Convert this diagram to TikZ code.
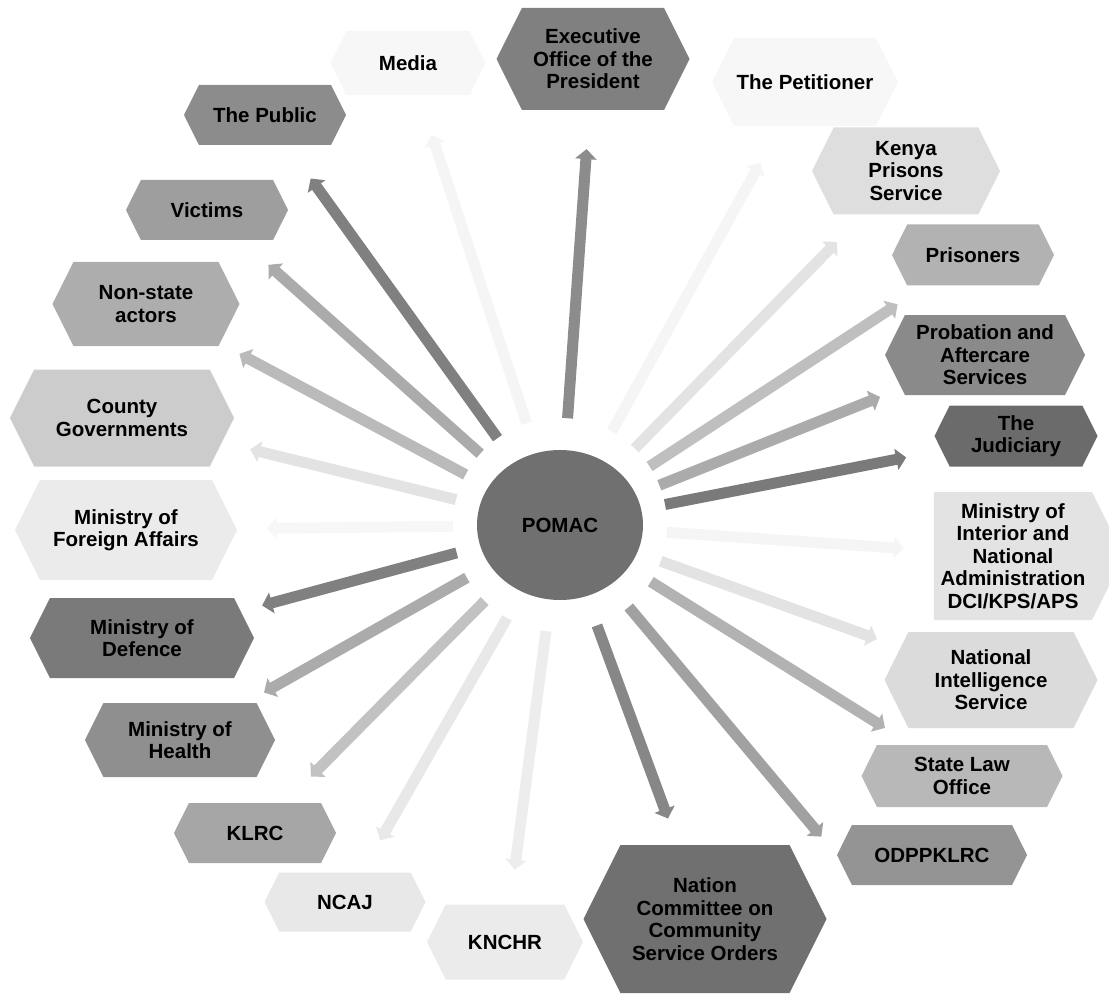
\documentclass[tikz,border=0pt]{standalone}
\usepackage{fontspec}
\setmainfont{Liberation Sans}
\usetikzlibrary{shapes.symbols,shapes.geometric,arrows.meta}

\begin{document}
\begin{tikzpicture}[x=1pt, y=-1pt,
  hexbox/.style={shape=signal, signal to=east and west, signal pointer angle=127,
    inner sep=1pt, align=center, font=\fontsize{20.5}{22.5}\selectfont\bfseries},
  spoke/.style={line width=11pt, -{Triangle[width=21pt,length=10pt]}, shorten <=107pt}]

  \useasboundingbox (0,0) rectangle (1109,995);

  % centre
  \node[ellipse, fill=black!56, minimum width=166pt, minimum height=150pt, inner sep=0pt,
    font=\fontsize{20.5}{22.5}\selectfont\bfseries] (pomac) at (560,525) {POMAC};

  % top
  \node[hexbox, fill=black!3, minimum width=155pt, minimum height=64pt] (media) at (408,63) {Media};
  \node[hexbox, fill=black!50, minimum width=193pt, minimum height=102pt] (exec) at (593,59) {Executive\\Office of the\\President};
  \node[hexbox, fill=black!3, minimum width=186pt, minimum height=88pt] (petitioner) at (805,82) {The Petitioner};

  % left side
  \node[hexbox, fill=black!45, minimum width=162pt, minimum height=60pt] (public) at (265,115) {The Public};
  \node[hexbox, fill=black!38, minimum width=162pt, minimum height=60pt] (victims) at (207,210) {Victims};
  \node[hexbox, fill=black!32, minimum width=187pt, minimum height=84pt] (nonstate) at (146,304) {Non-state\\actors};
  \node[hexbox, fill=black!20, minimum width=224pt, minimum height=97pt] (county) at (122,418) {County\\Governments};
  \node[hexbox, fill=black!8, minimum width=222pt, minimum height=100pt] (foreign) at (126,530) {Ministry of\\Foreign Affairs};
  \node[hexbox, fill=black!52, minimum width=224pt, minimum height=80pt] (defence) at (142,638) {Ministry of\\Defence};
  \node[hexbox, fill=black!44, minimum width=190pt, minimum height=74pt] (health) at (180,740) {Ministry of\\Health};
  \node[hexbox, fill=black!35, minimum width=162pt, minimum height=60pt] (klrc) at (255,833) {KLRC};

  % bottom
  \node[hexbox, fill=black!9, minimum width=161pt, minimum height=59pt] (ncaj) at (345,902) {NCAJ};
  \node[hexbox, fill=black!8, minimum width=156pt, minimum height=75pt] (knchr) at (505,942) {KNCHR};
  \node[hexbox, fill=black!56, minimum width=243pt, minimum height=148pt] (ncso) at (705,919) {Nation\\Committee on\\Community\\Service Orders};

  % right side
  \node[hexbox, fill=black!42, minimum width=190pt, minimum height=60pt] (odpp) at (932,855) {ODPPKLRC};
  \node[hexbox, fill=black!28, minimum width=201pt, minimum height=62pt] (slo) at (962,776) {State Law\\Office};
  \node[hexbox, fill=black!14, minimum width=213pt, minimum height=96pt] (nis) at (991,680) {National\\Intelligence\\Service};
  \node[hexbox, signal to=east, fill=black!11, minimum width=190pt, minimum height=128pt] (interior) at (1013,556) {Ministry of\\Interior and\\National\\Administration\\DCI/KPS/APS};
  \node[hexbox, fill=black!58, minimum width=163pt, minimum height=61pt] (judiciary) at (1016,436) {The\\Judiciary};
  \node[hexbox, fill=black!46, minimum width=200pt, minimum height=80pt] (probation) at (985,355) {Probation and\\Aftercare\\Services};
  \node[hexbox, fill=black!30, minimum width=162pt, minimum height=61pt] (prisoners) at (973,255) {Prisoners};
  \node[hexbox, fill=black!13, minimum width=188pt, minimum height=87pt] (kps) at (906,171) {Kenya\\Prisons\\Service};

  % spokes
  \draw[spoke, black!4, shorten >=42pt] (pomac.center) -- (media);
  \draw[spoke, black!45, shorten >=39pt] (pomac.center) -- (exec);
  \draw[spoke, black!4, shorten >=42pt] (pomac.center) -- (petitioner);
  \draw[spoke, black!50, shorten >=41pt] (pomac.center) -- (public);
  \draw[spoke, black!33, shorten >=37pt] (pomac.center) -- (victims);
  \draw[spoke, black!27, shorten >=22pt] (pomac.center) -- (nonstate);
  \draw[spoke, black!11, shorten >=29pt] (pomac.center) -- (county);
  \draw[spoke, black!3, shorten >=30pt] (pomac.center) -- (foreign);
  \draw[spoke, black!50, shorten >=22pt] (pomac.center) -- (defence);
  \draw[spoke, black!33, shorten >=21pt] (pomac.center) -- (health);
  \draw[spoke, black!24, shorten >=37pt] (pomac.center) -- (klrc);
  \draw[spoke, black!9, shorten >=37pt] (pomac.center) -- (ncaj);
  \draw[spoke, black!7, shorten >=35pt] (pomac.center) -- (knchr);
  \draw[spoke, black!47, shorten >=28pt] (pomac.center) -- (ncso);
  \draw[spoke, black!37, shorten >=24pt] (pomac.center) -- (odpp.west);
  \draw[spoke, black!30, shorten >=32pt] (pomac.center) -- (slo);
  \draw[spoke, black!11, shorten >=25pt] (pomac.center) -- (nis);
  \draw[spoke, black!4, shorten >=30pt] (pomac.center) -- (interior);
  \draw[spoke, black!52, shorten >=36pt] (pomac.center) -- (judiciary);
  \draw[spoke, black!33, shorten >=23pt] (pomac.center) -- (probation);
  \draw[spoke, black!25, shorten >=34pt] (pomac.center) -- (prisoners);
  \draw[spoke, black!11, shorten >=38pt] (pomac.center) -- (kps);

\end{tikzpicture}
\end{document}
